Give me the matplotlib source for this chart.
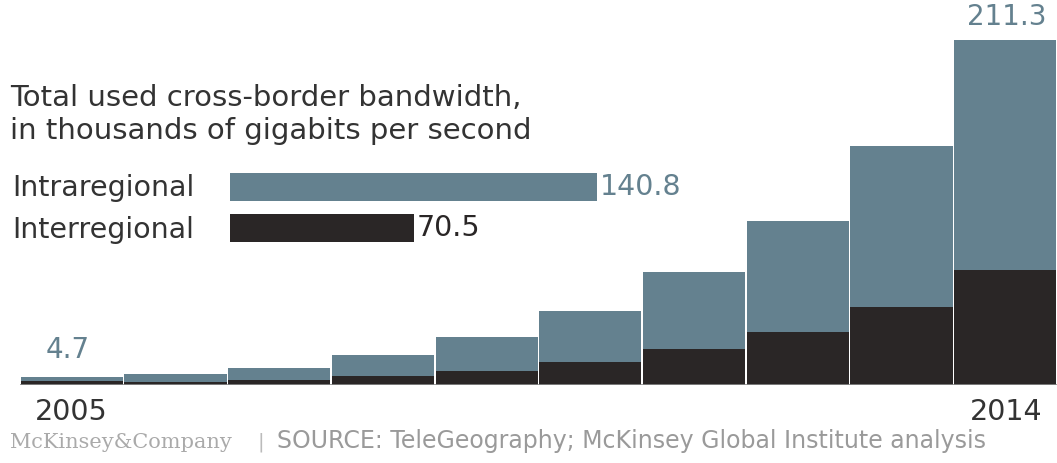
import matplotlib.pyplot as plt
import numpy as np

plt.rcParams["font.family"] = ["DejaVu Sans"]

# bandwidth, thousands of Gbps
years = list(range(2005, 2015))
interregional = [2.4, 1.6, 3.0, 5.5, 8.6, 14.1, 22.0, 32.5, 47.8, 70.5]
intraregional = [2.3, 5.2, 7.4, 12.9, 20.8, 31.2, 47.2, 67.9, 98.6, 140.8]
totals = [a + b for a, b in zip(interregional, intraregional)]

BLUE = "#64818f"
DARK = "#2a2626"
TEXT = "#333333"
GREY = "#9a9a9a"

W, H = 1057, 463
fig = plt.figure(figsize=(W / 100, H / 100), dpi=100)


def ytop(px):
    # figure fraction from a distance measured down from the top edge
    return 1 - px / H


# main stacked columns
ax = fig.add_axes([20 / W, 78 / H, 1037 / W, 385 / H])
x = np.arange(len(years))
ax.bar(x, interregional, width=0.985, color=DARK, linewidth=0)
ax.bar(x, intraregional, bottom=interregional, width=0.985, color=BLUE, linewidth=0)
ax.axhline(0, color="#8a8a8a", linewidth=1.2)
ax.set_xlim(-0.5, len(years) - 0.5)
ax.set_ylim(0, 235.8)
ax.axis("off")

ax.annotate(f"{totals[0]:.1f}", (x[0], totals[0]), xytext=(-4, 19),
            textcoords="offset pixels", color=BLUE, fontsize=20, va="baseline",
            ha="center")
ax.annotate(f"{totals[-1]:.1f}", (x[-1], totals[-1]), xytext=(2, 15),
            textcoords="offset pixels", color=BLUE, fontsize=20, va="baseline",
            ha="center")

# 2014 split shown as a horizontal key
key = fig.add_axes([230 / W, 213 / H, 600 / W, 85 / H])
key.barh([0], [intraregional[-1]], height=0.7, color=BLUE, linewidth=0)
key.barh([1], [interregional[-1]], height=0.7, color=DARK, linewidth=0)
key.set_xlim(0, 600 / 2.606)
key.set_ylim(1.537, -0.537)
key.axis("off")
key.text(intraregional[-1] + 1.2, 0, f"{intraregional[-1]:.1f}", color=BLUE,
         fontsize=20.5, va="center")
key.text(interregional[-1] + 1.2, 1, f"{interregional[-1]:.1f}", color=DARK,
         fontsize=20.5, va="center")

fig.text(12 / W, ytop(188), "Intraregional", color=TEXT, fontsize=20.5, va="center")
fig.text(12 / W, ytop(230), "Interregional", color=TEXT, fontsize=20.5, va="center")

fig.text(10 / W, ytop(106), "Total used cross-border bandwidth,", color=TEXT,
         fontsize=21, va="baseline")
fig.text(10 / W, ytop(139), "in thousands of gigabits per second", color=TEXT,
         fontsize=21, va="baseline")

fig.text(35 / W, ytop(420), str(years[0]), color=TEXT, fontsize=20.5, va="baseline")
fig.text(1042 / W, ytop(420), str(years[-1]), color=TEXT, fontsize=20.5,
         va="baseline", ha="right")

# footer
fig.text(10 / W, ytop(448), "McKinsey&Company", color="#aaaaaa", fontsize=15,
         va="baseline", family=["DejaVu Serif"])
fig.text(257 / W, ytop(448), "|", color="#bbbbbb", fontsize=14, va="baseline")
fig.text(277 / W, ytop(448),
         "SOURCE: TeleGeography; McKinsey Global Institute analysis",
         color=GREY, fontsize=17, va="baseline")

fig.savefig("out.png", dpi=100)
